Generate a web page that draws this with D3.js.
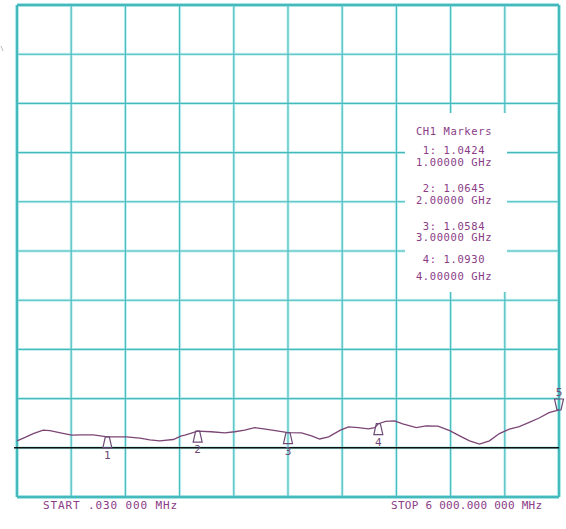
<!DOCTYPE html>
<html>
<head>
<meta charset="utf-8">
<script src="https://cdn.jsdelivr.net/npm/d3@7"></script>
<style>
  body { margin: 0; background: #fff; }
  text { font-family: "DejaVu Sans Mono", "Liberation Mono", monospace; }
</style>
</head>
<body>
<svg id="chart" width="566" height="529"></svg>
<script>
// sweep settings
var startMHz = 0.03;
var stopMHz = 6000;
var refValue = 1.0;     // reference line value (VSWR)
var perDiv = 0.19;      // VSWR per division
var refDiv = 9;         // reference line sits on the 9th division from top

// trace
var freqMHz = [0.03, 90, 180, 290, 365, 495, 605, 716, 845, 1000, 1100, 1210, 1360, 1470, 1580, 1730,
  1820, 1860, 2000, 2150, 2300, 2410, 2520, 2630, 2750, 2860, 3000, 3150, 3260, 3350, 3450, 3580,
  3670, 3780, 3890, 3960, 4000, 4080, 4180, 4270, 4420, 4530, 4660, 4790, 4900, 5010, 5120, 5230,
  5340, 5450, 5560, 5670, 5780, 5890, 6000];
var vswr = [1.027, 1.040, 1.055, 1.068, 1.066, 1.057, 1.049, 1.050, 1.050, 1.0424, 1.042, 1.042, 1.037, 1.031, 1.027, 1.032,
  1.046, 1.049, 1.0645, 1.062, 1.058, 1.062, 1.068, 1.078, 1.072, 1.066, 1.0584, 1.058, 1.046, 1.034, 1.042, 1.068,
  1.081, 1.078, 1.073, 1.078, 1.0930, 1.102, 1.104, 1.092, 1.078, 1.085, 1.084, 1.066, 1.046, 1.027, 1.014, 1.027,
  1.055, 1.072, 1.082, 1.098, 1.115, 1.136, 1.146];

// markers
var markerNum = [1, 2, 3, 4, 5];
var markerMHz = [1000, 2000, 3000, 4000, 6000];
var markerVal = [1.0424, 1.0645, 1.0584, 1.0930, 1.146];

var startLabel = "START .030 000 MHz";
var stopLabel = "STOP 6 000.000 000 MHz";
var boxTitle = "CH1 Markers";

var gridColor = '#45b9bc';
var haloColor = '#c6f1f1';
var traceColor = '#7b4676';
var textColor = '#8a3c86';

// plot frame (note: "top" is taken by window.top, so use other names)
var gLeft = 17, gRight = 559, gTop = 5, gBottom = 497;

var svg = d3.select('#chart');
svg.append('rect').attr('width', 566).attr('height', 529).attr('fill', '#fff');

var x = d3.scaleLinear().domain([startMHz, stopMHz]).range([gLeft, gRight]);
var y = d3.scaleLinear()
    .domain([refValue - (10 - refDiv) * perDiv, refValue + refDiv * perDiv])
    .range([gBottom, gTop]);

var xDivs = d3.range(11).map(function (i) { return startMHz + i * (stopMHz - startMHz) / 10; });
var yDivs = d3.range(11).map(function (i) { return y.domain()[0] + i * perDiv; });

// grid: light halo first, then the teal line
var grid = svg.append('g');
[[haloColor, 3], [gridColor, 1.1]].forEach(function (s) {
    grid.append('g').selectAll('line').data(xDivs).enter().append('line')
        .attr('x1', function (d) { return x(d); }).attr('x2', function (d) { return x(d); })
        .attr('y1', gTop).attr('y2', gBottom)
        .attr('stroke', s[0]).attr('stroke-width', function (d, i) { return (i == 0 || i == 10) ? s[1] + 1.2 : s[1]; });
    grid.append('g').selectAll('line').data(yDivs).enter().append('line')
        .attr('y1', function (d) { return y(d); }).attr('y2', function (d) { return y(d); })
        .attr('x1', gLeft).attr('x2', gRight)
        .attr('stroke', s[0]).attr('stroke-width', function (d, i) { return (i == 0 || i == 10) ? s[1] + 1.2 : s[1]; });
});

// reference line
svg.append('line')
    .attr('x1', gLeft - 3).attr('x2', gRight)
    .attr('y1', y(refValue)).attr('y2', y(refValue))
    .attr('stroke', '#111').attr('stroke-width', 1.4);

// small mark at top left
svg.append('line').attr('x1', 1).attr('x2', 3).attr('y1', 46).attr('y2', 51)
    .attr('stroke', '#bbb').attr('stroke-width', 1);

// trace
var line = d3.line()
    .x(function (d, i) { return x(freqMHz[i]); })
    .y(function (d) { return y(d); });

svg.append('path')
    .datum(vswr)
    .attr('d', line)
    .attr('fill', 'none')
    .attr('stroke', traceColor)
    .attr('stroke-width', 1.3);

// marker symbols
var mk = svg.append('g');
markerNum.forEach(function (n, i) {
    var cx = x(markerMHz[i]);
    var cy = y(markerVal[i]);
    var d, ly;
    if (n < 5) {
        d = 'M' + (cx - 2) + ',' + cy + 'L' + (cx + 2) + ',' + cy +
            'L' + (cx + 4.5) + ',' + (cy + 11) + 'L' + (cx - 4.5) + ',' + (cy + 11) + 'Z';
        ly = cy + 22;
    } else {
        d = 'M' + (cx - 2) + ',' + cy + 'L' + (cx + 2) + ',' + cy +
            'L' + (cx + 4.5) + ',' + (cy - 11) + 'L' + (cx - 4.5) + ',' + (cy - 11) + 'Z';
        ly = cy - 14;
    }
    mk.append('path').attr('d', d)
        .attr('fill', 'none').attr('stroke', '#6e4a78').attr('stroke-width', 1.2);
    mk.append('text').attr('x', cx).attr('y', ly)
        .attr('text-anchor', 'middle').attr('font-size', 11)
        .attr('fill', '#6e4a78').text(n);
});

// marker readout box
var box = svg.append('g');
box.append('rect').attr('x', 405).attr('y', 113).attr('width', 102).attr('height', 179)
    .attr('fill', '#fff');

var rows = [boxTitle];
markerNum.slice(0, 4).forEach(function (n, i) {
    rows.push(n + ': ' + markerVal[i].toFixed(4));
    rows.push((markerMHz[i] / 1000).toFixed(5) + ' GHz');
});
var rowY = [135, 154, 166, 192, 204, 230, 241, 263, 280];

box.selectAll('text').data(rows).enter().append('text')
    .attr('x', 454)
    .attr('y', function (d, i) { return rowY[i]; })
    .attr('text-anchor', 'middle')
    .attr('font-size', 10.5)
    .attr('letter-spacing', 0.6)
    .attr('fill', textColor)
    .text(function (d) { return d; });

// start / stop annotation
svg.append('text').attr('x', 43).attr('y', 509)
    .attr('font-size', 11).attr('fill', textColor)
    .attr('textLength', 134).attr('lengthAdjust', 'spacing')
    .text(startLabel);
svg.append('text').attr('x', 391).attr('y', 509)
    .attr('font-size', 11).attr('fill', textColor)
    .attr('textLength', 151).attr('lengthAdjust', 'spacing')
    .text(stopLabel);
</script>
</body>
</html>
